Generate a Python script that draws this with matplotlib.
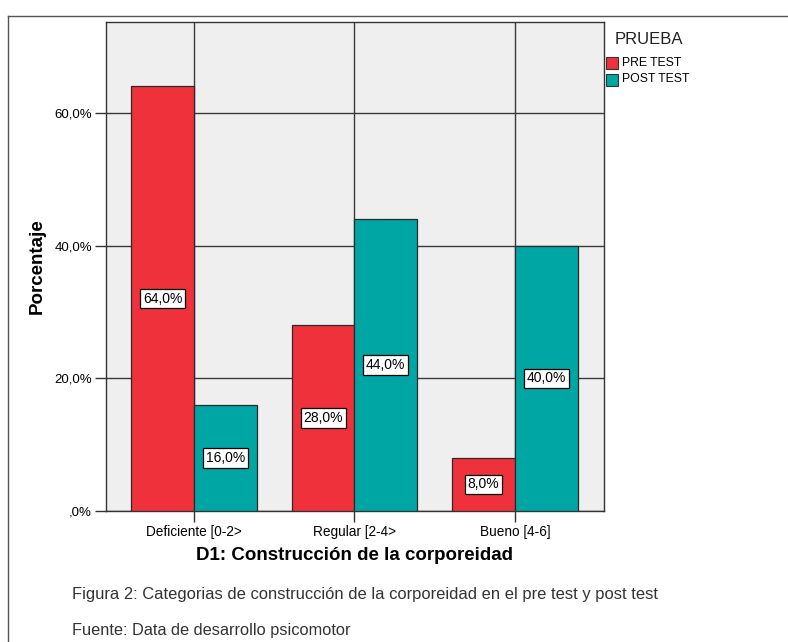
import matplotlib
matplotlib.use("Agg")
import matplotlib.pyplot as plt
import numpy as np
from matplotlib.patches import Rectangle
from matplotlib.lines import Line2D

plt.rcParams['font.family'] = ['Liberation Sans', 'DejaVu Sans']

categories = ["Deficiente [0-2>", "Regular [2-4>", "Bueno [4-6]"]
series_names = ["PRE TEST", "POST TEST"]
pre_test = [64.0, 28.0, 8.0]
post_test = [16.0, 44.0, 40.0]
y_ticks = [0, 20, 40, 60]
y_tick_labels = [",0%", "20,0%", "40,0%", "60,0%"]

colors = ["#EE313A", "#00A6A3"]
W, H = 788, 642

fig = plt.figure(figsize=(W / 100, H / 100), dpi=100)
fig.patch.set_facecolor("white")

def fx(px):
    return px / W

def fy(py):
    return 1 - py / H

# outer frame (left and top edges)
fig.add_artist(Line2D([fx(8), fx(8)], [fy(16), 0], color="#555555", lw=1.0))
fig.add_artist(Line2D([fx(8), 1], [fy(16), fy(16)], color="#555555", lw=1.0))

ax = fig.add_axes([fx(106), fy(511), fx(604) - fx(106), fy(22) - fy(511)])
ax.set_facecolor("#EFEFEF")

x = np.arange(len(categories))
bw = 0.39
ax.set_axisbelow(True)
ax.grid(True, color="#3A3A3A", lw=1.0)

for i, (vals, col) in enumerate(zip([pre_test, post_test], colors)):
    offs = -bw / 2 if i == 0 else bw / 2
    ax.bar(x + offs, vals, width=bw, color=col, edgecolor="#2a2a2a",
           linewidth=0.9, label=series_names[i], zorder=3)
    for xb, v in zip(x + offs, vals):
        ax.text(xb, v / 2, f"{v:.1f}%".replace(".", ","), ha="center", va="center",
                fontsize=10, color="black", zorder=5,
                bbox=dict(boxstyle="square,pad=0.2", fc="white", ec="black", lw=0.9))

ax.set_xlim(-0.548, 2.555)
ax.set_ylim(0, 73.7)
ax.set_xticks(x)
ax.set_xticklabels(categories, fontsize=9.8)
ax.set_yticks(y_ticks)
ax.set_yticklabels(y_tick_labels, fontsize=9.5)
ax.tick_params(axis="both", length=8, width=1.0, color="#333333", pad=2)
for s in ax.spines.values():
    s.set_color("#333333")
    s.set_linewidth(1.0)

fig.text(fx(37), fy(266), "Porcentaje", rotation=90, ha="center", va="center",
         fontsize=13.5, fontweight="bold")
fig.text(fx(354.5), fy(555), "D1: Construcción de la corporeidad", ha="center",
         va="center", fontsize=13.5, fontweight="bold")

# legend
fig.text(fx(615), fy(39), "PRUEBA", ha="left", va="center", fontsize=12, color="#222222")
for j, (name, col) in enumerate(zip(series_names, colors)):
    yc = 63 + j * 16.5
    fig.add_artist(Rectangle((fx(606), fy(yc + 6)), fx(12), fy(yc - 6) - fy(yc + 6),
                             facecolor=col, edgecolor="#333333", lw=0.8))
    fig.text(fx(622), fy(yc), name, ha="left", va="center", fontsize=8.8)

fig.text(fx(72), fy(594), "Figura 2: Categorias de construcción de la corporeidad en el pre test y post test",
         ha="left", va="center", fontsize=11.9, color="#333333")
fig.text(fx(72), fy(630), "Fuente: Data de desarrollo psicomotor",
         ha="left", va="center", fontsize=11.8, color="#333333")

fig.savefig("out.png", dpi=100, facecolor="white")
